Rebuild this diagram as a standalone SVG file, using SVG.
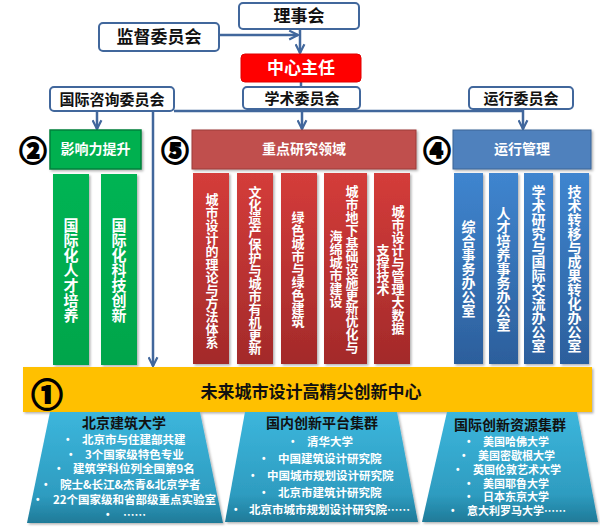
<svg xmlns="http://www.w3.org/2000/svg" width="600" height="531" viewBox="0 0 600 531">
<defs>
<style>
.t{font-family:"Noto Sans CJK SC","Liberation Sans",sans-serif;font-weight:bold;}
.box{fill:#fff;stroke:#41679c;stroke-width:2;}
.dk{fill:#111;}
.wt{fill:#fff;}
.vt{writing-mode:vertical-rl;text-orientation:upright;font-family:"Noto Sans CJK SC","Liberation Sans",sans-serif;font-weight:bold;fill:#fff;text-anchor:middle;}
.con{fill:none;stroke:#41679c;stroke-width:2.5;}
.num{font-family:"Noto Sans CJK SC","DejaVu Sans",sans-serif;font-weight:bold;fill:#000;stroke:#000;stroke-width:2;text-anchor:middle;dominant-baseline:central;}
.bl{fill:#fff;font-size:11.5px;}
.bs{fill:#fff;font-size:11px;}
.bu{font-family:"Liberation Sans",sans-serif;font-weight:bold;fill:#fff;font-size:10px;}
</style>
<marker id="arr" viewBox="0 0 10 10" refX="9" refY="5" markerWidth="11" markerHeight="11" markerUnits="userSpaceOnUse" orient="auto">
<path d="M1,1 L9,5 L1,9" fill="none" stroke="#41679c" stroke-width="2"/>
</marker>
<linearGradient id="gRed" x1="0" y1="0" x2="0" y2="1"><stop offset="0" stop-color="#d43c3a"/><stop offset="1" stop-color="#a32a2a"/></linearGradient>
<linearGradient id="gGreen" x1="0" y1="0" x2="0" y2="1"><stop offset="0" stop-color="#00b453"/><stop offset="1" stop-color="#00a54b"/></linearGradient>
<linearGradient id="gBlue" x1="0" y1="0" x2="0" y2="1"><stop offset="0" stop-color="#3f85cf"/><stop offset="1" stop-color="#2c5f9c"/></linearGradient>
<linearGradient id="gTrap" x1="0" y1="0" x2="0" y2="1"><stop offset="0" stop-color="#3cb6dc"/><stop offset="0.75" stop-color="#2e9cc0"/><stop offset="1" stop-color="#1f7a98"/></linearGradient>
<filter id="sh" x="-10%" y="-10%" width="130%" height="130%"><feDropShadow dx="1.5" dy="1.5" stdDeviation="1" flood-color="#000" flood-opacity="0.3"/></filter>
</defs>
<rect width="600" height="531" fill="#fff"/>

<g id="connectors">
<path class="con" d="M219,35 H298" marker-end="url(#arr)"/>
<path class="con" d="M300,29 V53" marker-end="url(#arr)"/>
<path class="con" d="M301,82 V87"/>
<path class="con" d="M174,111 H523"/>
<path class="con" d="M97,112 V129" marker-end="url(#arr)"/>
<path class="con" d="M302,109 V129" marker-end="url(#arr)"/>
<path class="con" d="M523,109 V129" marker-end="url(#arr)"/>
<path class="con" d="M153,111 V366" marker-end="url(#arr)"/>
</g>

<g id="lishihui"><rect class="box" x="239" y="3" width="120" height="26" rx="4"/><text class="t dk" x="299" y="22" font-size="17" text-anchor="middle">理事会</text></g>
<g id="jiandu"><rect class="box" x="99" y="23" width="120" height="28" rx="4"/><text class="t dk" x="159" y="43" font-size="17" text-anchor="middle">监督委员会</text></g>
<g id="zhuren"><rect x="241" y="54" width="120" height="28" rx="4" fill="#ff0000" stroke="#e00000" stroke-width="1"/><text class="t wt" x="301" y="74" font-size="17" text-anchor="middle">中心主任</text></g>
<g id="guoji"><rect class="box" x="50" y="87" width="124" height="24" rx="4"/><text class="t dk" x="112" y="104.5" font-size="15" text-anchor="middle">国际咨询委员会</text></g>
<g id="xueshu"><rect class="box" x="243" y="87" width="117" height="22" rx="4"/><text class="t dk" x="302" y="103.5" font-size="15" text-anchor="middle">学术委员会</text></g>
<g id="yunxingwei"><rect class="box" x="469" y="87" width="104" height="22" rx="4"/><text class="t dk" x="521" y="103.5" font-size="15" text-anchor="middle">运行委员会</text></g>

<g id="yingxiang">
<text class="num" x="33" y="149" font-size="27">②</text>
<rect x="50" y="130" width="91" height="39" fill="#00b050" stroke="#00803a" stroke-width="1.5" filter="url(#sh)"/>
<text class="t wt" x="95.5" y="154" font-size="14" text-anchor="middle">影响力提升</text>
</g>
<g id="zhongdian">
<text class="num" x="175" y="149" font-size="27">⑤</text>
<rect x="192" y="130" width="224" height="39" fill="#c0504d" stroke="#9c3a38" stroke-width="1" filter="url(#sh)"/>
<text class="t wt" x="304" y="154" font-size="14" text-anchor="middle">重点研究领域</text>
</g>
<g id="yunxing">
<text class="num" x="437" y="149" font-size="27">④</text>
<rect x="453" y="130" width="138" height="39" fill="#4f81bd" stroke="#3a6496" stroke-width="1" filter="url(#sh)"/>
<text class="t wt" x="522" y="154" font-size="14" text-anchor="middle">运行管理</text>
</g>

<g id="g1"><rect x="53" y="174" width="36" height="191" fill="url(#gGreen)" filter="url(#sh)"/><text class="vt" x="71" y="270" font-size="15">国际化人才培养</text></g>
<g id="g2"><rect x="101" y="174" width="36" height="191" fill="url(#gGreen)" filter="url(#sh)"/><text class="vt" x="119" y="270" font-size="15">国际化科技创新</text></g>

<g id="r1"><rect x="193" y="173" width="36" height="191" fill="url(#gRed)" filter="url(#sh)"/><text class="vt" x="212" y="271" font-size="13">城市设计的理论与方法体系</text></g>
<g id="r2"><rect x="237" y="173" width="36" height="191" fill="url(#gRed)" filter="url(#sh)"/><text class="vt" x="255" y="270" font-size="13">文化遗产保护与城市有机更新</text></g>
<g id="r3"><rect x="281" y="173" width="36" height="191" fill="url(#gRed)" filter="url(#sh)"/><text class="vt" x="298" y="269" font-size="13">绿色城市与绿色建筑</text></g>
<g id="r4"><rect x="324" y="173" width="43" height="191" fill="url(#gRed)" filter="url(#sh)"/><text class="vt" x="352" y="269" font-size="13">城市地下基础设施更新优化与</text><text class="vt" x="336" y="269" font-size="13">海绵城市建设</text></g>
<g id="r5"><rect x="374" y="173" width="36" height="191" fill="url(#gRed)" filter="url(#sh)"/><text class="vt" x="398" y="270" font-size="13">城市设计与管理大数据</text><text class="vt" x="383" y="270" font-size="13">支撑技术</text></g>

<g id="b1"><rect x="454" y="173" width="29" height="191" fill="url(#gBlue)" filter="url(#sh)"/><text class="vt" x="468.5" y="269" font-size="14">综合事务办公室</text></g>
<g id="b2"><rect x="489" y="173" width="29" height="191" fill="url(#gBlue)" filter="url(#sh)"/><text class="vt" x="503.5" y="269" font-size="14">人才培养事务办公室</text></g>
<g id="b3"><rect x="524" y="173" width="29" height="191" fill="url(#gBlue)" filter="url(#sh)"/><text class="vt" x="538.5" y="269" font-size="14">学术研究与国际交流办公室</text></g>
<g id="b4"><rect x="560" y="173" width="29" height="191" fill="url(#gBlue)" filter="url(#sh)"/><text class="vt" x="574.5" y="269" font-size="14">技术转移与成果转化办公室</text></g>

<g id="center">
<rect x="23" y="367" width="569" height="45" fill="#ffc000" filter="url(#sh)"/>
<text class="num" x="47" y="392" font-size="31">①</text>
<text class="t dk" x="311" y="398" font-size="17" text-anchor="middle">未来城市设计高精尖创新中心</text>
</g>

<g id="bucea">
<path d="M50,412 H200 L223,523 H27 Z" fill="url(#gTrap)" filter="url(#sh)"/>
<text class="t dk" x="124" y="428" font-size="14" text-anchor="middle">北京建筑大学</text>
<g class="bu">
<text x="66" y="443">•</text><text x="69" y="458">•</text><text x="57" y="472">•</text><text x="44" y="488">•</text><text x="36" y="503">•</text><text x="106" y="518">•</text>
</g>
<g class="t bl">
<text x="82" y="444">北京市与住建部共建</text>
<text x="85" y="459">3个国家级特色专业</text>
<text x="73" y="473">建筑学科位列全国第9名</text>
<text x="60" y="489">院士&amp;长江&amp;杰青&amp;北京学者</text>
<text x="53" y="504">22个国家级和省部级重点实验室</text>
<text x="123" y="519">……</text>
</g>
</g>

<g id="domestic">
<path d="M245,412 H397 L418,522 H225 Z" fill="url(#gTrap)" filter="url(#sh)"/>
<text class="t dk" x="322" y="428" font-size="14" text-anchor="middle">国内创新平台集群</text>
<g class="bu">
<text x="291" y="445">•</text><text x="262" y="462">•</text><text x="251" y="479">•</text><text x="262" y="496">•</text><text x="234" y="513">•</text>
</g>
<g class="t bl">
<text x="307" y="446">清华大学</text>
<text x="278" y="463">中国建筑设计研究院</text>
<text x="267" y="480">中国城市规划设计研究院</text>
<text x="278" y="497">北京市建筑计研究院</text>
<text x="249" y="514">北京市城市规划设计研究院……</text>
</g>
</g>

<g id="intl">
<path d="M447,412 H577 L598,522 H422 Z" fill="url(#gTrap)" filter="url(#sh)"/>
<text class="t dk" x="510" y="430" font-size="14" text-anchor="middle">国际创新资源集群</text>
<g class="bu">
<text x="467" y="445">•</text><text x="462" y="459">•</text><text x="456" y="473">•</text><text x="467" y="487">•</text><text x="467" y="500">•</text><text x="451" y="514">•</text>
</g>
<g class="t bs">
<text x="483" y="446">美国哈佛大学</text>
<text x="478" y="460">美国密歇根大学</text>
<text x="473" y="474">英国伦敦艺术大学</text>
<text x="483" y="488">美国耶鲁大学</text>
<text x="483" y="501">日本东京大学</text>
<text x="467" y="515">意大利罗马大学……</text>
</g>
</g>
</svg>
